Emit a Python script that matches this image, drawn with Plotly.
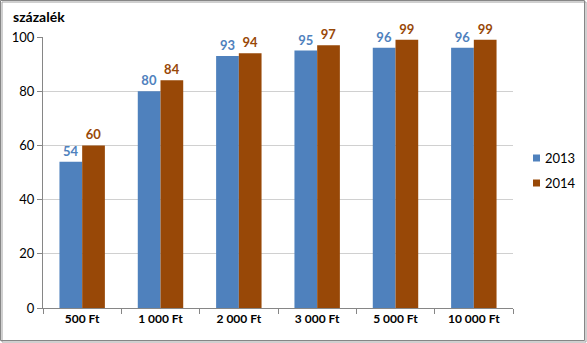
import plotly.graph_objects as go

categories = ["500 Ft", "1 000 Ft", "2 000 Ft", "3 000 Ft", "5 000 Ft", "10 000 Ft"]
values_2013 = [54, 80, 93, 95, 96, 96]
values_2014 = [60, 84, 94, 97, 99, 99]
series_names = ["2013", "2014"]
y_ticks = [0, 20, 40, 60, 80, 100]

BLUE = "#4F81BD"
BROWN = "#984807"
FONT = "Lato"

W, H = 587, 343
L, R, T, B = 43, 74, 37, 35
pw, ph = W - L - R, H - T - B

def px_x(p):
    return (p - L) / pw

def px_y(p):
    return (H - B - p) / ph

series = [(series_names[0], values_2013, BLUE), (series_names[1], values_2014, BROWN)]

fig = go.Figure()
for name, vals, col in series:
    fig.add_trace(go.Bar(
        x=categories, y=vals, name=name, marker_color=col,
        marker_line_width=0,
        text=[str(v) for v in vals], textposition="outside",
        textfont=dict(family=FONT, size=13, color=col, weight="bold"),
        cliponaxis=False, showlegend=False,
    ))

annotations = [dict(
    text="<b>százalék</b>", xref="paper", yref="paper",
    x=px_x(11), y=px_y(17), xanchor="left", yanchor="middle",
    showarrow=False, font=dict(family=FONT, size=14, color="#000000"),
)]
shapes = [
    dict(type="rect", xref="paper", yref="paper",
         x0=px_x(2), x1=px_x(586), y0=px_y(2), y1=px_y(342),
         line=dict(color="#A0A0A0", width=1), fillcolor="rgba(0,0,0,0)", layer="below"),
    dict(type="rect", xref="paper", yref="paper",
         x0=px_x(0.5), x1=px_x(584.5), y0=px_y(0.5), y1=px_y(340.5),
         line=dict(color="#868686", width=1), fillcolor="rgba(0,0,0,0)", layer="below"),
]
# manual legend
for i, (name, vals, col) in enumerate(series):
    cy = 158 + i * 25
    shapes.append(dict(type="rect", xref="paper", yref="paper",
                       x0=px_x(533), x1=px_x(540), y0=px_y(cy - 3.5), y1=px_y(cy + 3.5),
                       line=dict(width=0), fillcolor=col))
    annotations.append(dict(text=name, xref="paper", yref="paper",
                            x=px_x(543), y=px_y(cy), xanchor="left", yanchor="middle",
                            showarrow=False, font=dict(family=FONT, size=13, color="#000000")))

fig.update_layout(
    width=W, height=H,
    margin=dict(l=L, r=R, t=T, b=B, autoexpand=False),
    paper_bgcolor="white", plot_bgcolor="white",
    barmode="group", bargap=0.42, bargroupgap=0,
    font=dict(family=FONT, size=12, color="#000000"),
    showlegend=False,
    xaxis=dict(
        showgrid=False, showline=True, linecolor="#868686", linewidth=1,
        ticks="outside", ticklen=5, tickcolor="#868686",
        tickson="boundaries",
        tickfont=dict(family=FONT, size=12, color="#000000", weight="bold"),
        fixedrange=True,
    ),
    yaxis=dict(
        range=[0, 100], tickvals=y_ticks, showgrid=True, gridcolor="#D0D0D0",
        showline=True, linecolor="#868686", linewidth=1,
        ticks="outside", ticklen=5, tickcolor="#868686",
        tickfont=dict(family=FONT, size=13, color="#000000"),
        zeroline=False, fixedrange=True,
    ),
    annotations=annotations,
    shapes=shapes,
)

fig.write_html("out.html")
